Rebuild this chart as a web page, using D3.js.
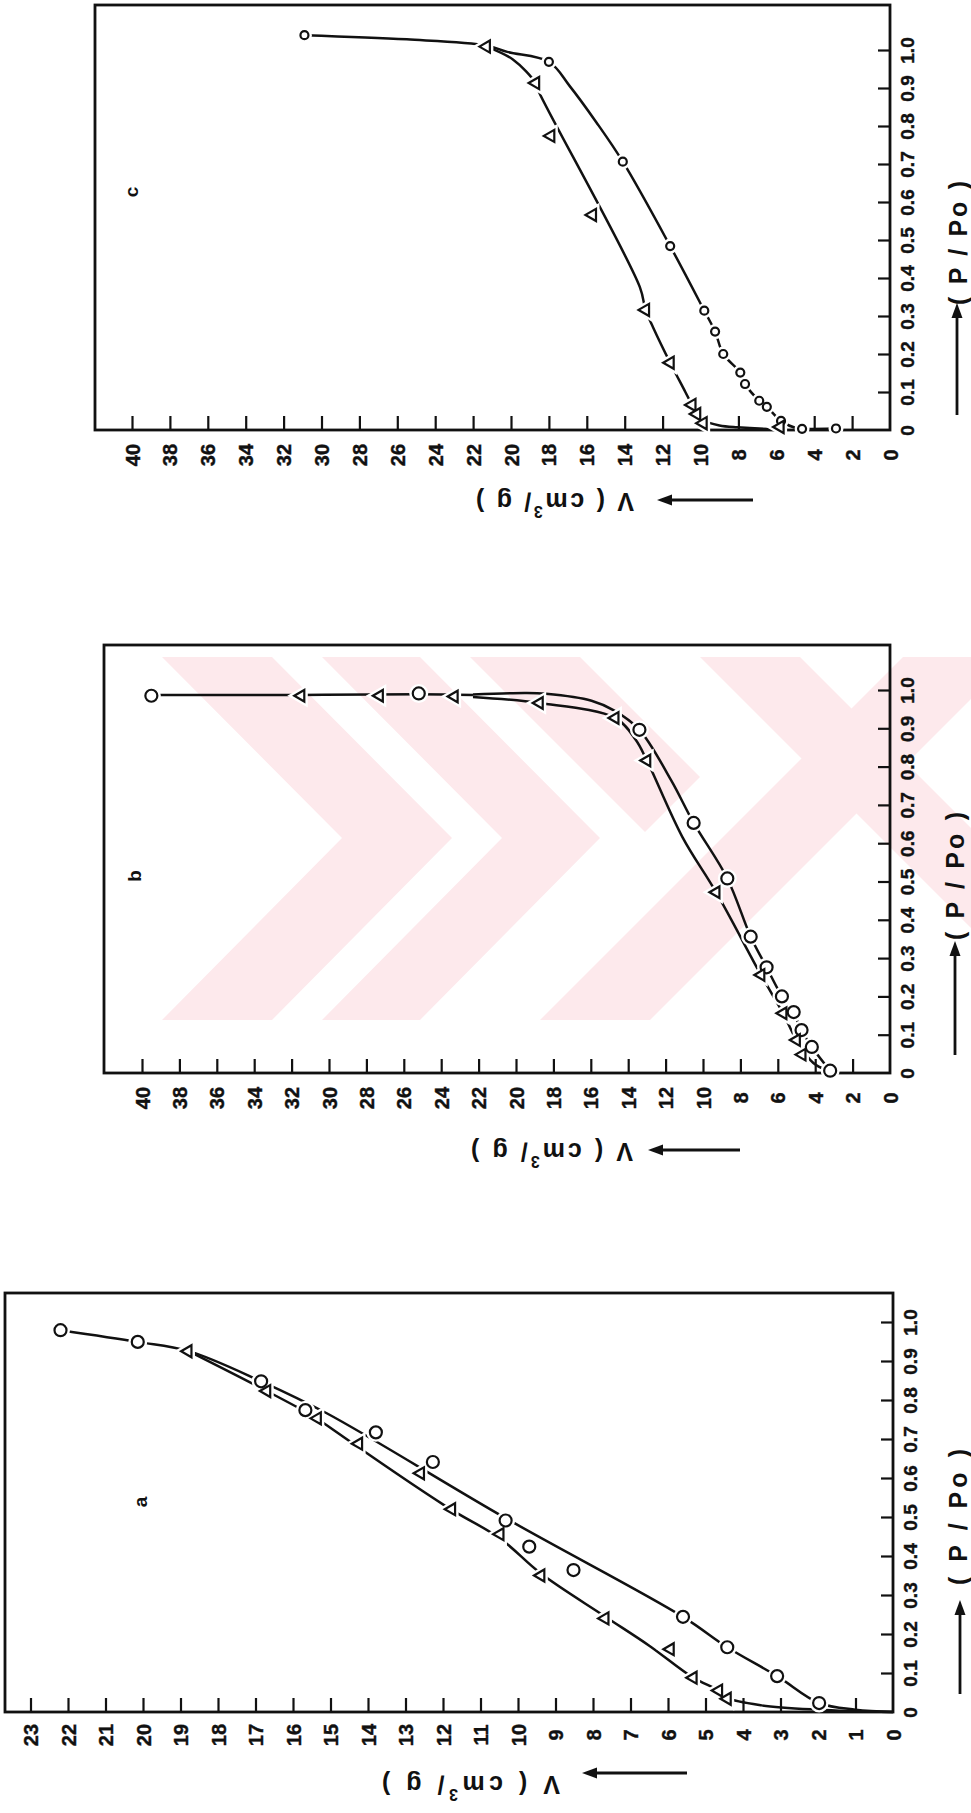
<!DOCTYPE html>
<html><head><meta charset="utf-8">
<script src="https://cdn.jsdelivr.net/npm/d3@7"></script>
<style>
body{margin:0;background:#fff}
svg{display:block}
text{font-family:"Liberation Sans",Arial,sans-serif;fill:#111}
</style>
</head><body>
<svg id="chart" width="971" height="1813"></svg>
<script>
// ---------- tick values / labels ----------
const pTicks = [0,0.1,0.2,0.3,0.4,0.5,0.6,0.7,0.8,0.9,1.0];
const pTickLabels = ["0","0.1","0.2","0.3","0.4","0.5","0.6","0.7","0.8","0.9","1.0"];
const vTicksA = [0,1,2,3,4,5,6,7,8,9,10,11,12,13,14,15,16,17,18,19,20,21,22,23];
const vTickLabelsA = ["0","1","2","3","4","5","6","7","8","9","10","11","12","13","14","15","16","17","18","19","20","21","22","23"];
const vTicksBC = [0,2,4,6,8,10,12,14,16,18,20,22,24,26,28,30,32,34,36,38,40];
const vTickLabelsBC = ["0","2","4","6","8","10","12","14","16","18","20","22","24","26","28","30","32","34","36","38","40"];

// ---------- panel a data  [V (cm3/g), P/Po] ----------
const aCircles = [[22.2,0.979],[20.14,0.949],[16.85,0.848],[15.67,0.774],[13.79,0.717],[12.27,0.641],[10.33,0.491],[9.7,0.424],[8.52,0.364],[5.6,0.244],[4.42,0.166],[3.09,0.092],[1.97,0.023]];
const aTriangles = [[18.8,0.925],[16.7,0.823],[15.35,0.753],[14.25,0.688],[12.6,0.612],[11.77,0.52],[10.48,0.456],[9.39,0.35],[7.68,0.24],[5.94,0.161],[5.33,0.088],[4.65,0.055],[4.42,0.034]];
const aCircleLine = [[22.2,0.979],[20.14,0.949],[18.8,0.926],[16.85,0.848],[15.1,0.766],[10.33,0.497],[5.6,0.244],[4.42,0.166],[3.09,0.092],[1.97,0.023],[1.0,0.006],[0,0]];
const aTriangleLine = [[18.8,0.926],[16.7,0.823],[15.36,0.753],[15.1,0.735],[11.9,0.526],[10.48,0.445],[9.39,0.355],[7.68,0.245],[6.5,0.17],[5.33,0.088],[4.65,0.055],[4.42,0.036],[3.5,0.017],[2,0.006],[0,0]];

// ---------- panel b data ----------
const bCircles = [[39.5,0.985],[25.2,0.991],[13.4,0.896],[10.5,0.653],[8.7,0.508],[7.45,0.356],[6.6,0.276],[5.78,0.2],[5.15,0.159],[4.73,0.112],[4.18,0.068],[3.2,0.006]];
const bTriangles = [[31.5,0.985],[27.3,0.985],[23.3,0.983],[18.75,0.966],[14.7,0.927],[13.0,0.816],[9.3,0.472],[6.9,0.256],[5.72,0.156],[5.0,0.086],[4.7,0.048]];
const bTopLine = [[39.5,0.987],[31.5,0.987],[25.2,0.989],[22.3,0.987]];
const bCircleLine = [[22.3,0.988],[19.5,0.992],[18.4,0.99],[15.96,0.972],[14.74,0.946],[13.4,0.896],[11.7,0.764],[10.5,0.653],[8.7,0.508],[7.45,0.356],[6.6,0.276],[5.78,0.2],[5.15,0.155],[4.73,0.112],[4.18,0.068],[3.2,0.006]];
const bTriangleLine = [[22.3,0.982],[18.75,0.966],[14.7,0.927],[13.6,0.87],[13.0,0.816],[11.1,0.616],[9.3,0.472],[6.9,0.256],[5.72,0.156],[5.0,0.086],[4.1,0.026],[3.4,0.008]];

// ---------- panel c data ----------
const cCircles = [[30.9,1.039],[18.0,0.969],[14.1,0.706],[11.6,0.484],[9.8,0.314],[9.23,0.259],[8.8,0.2],[7.9,0.151],[7.65,0.121],[6.9,0.077],[6.5,0.061],[5.75,0.024],[4.64,0.003],[2.85,0.004]];
const cTriangles = [[21.3,1.009],[18.7,0.913],[17.9,0.774],[15.7,0.566],[12.9,0.316],[11.6,0.177],[10.45,0.066],[10.2,0.042],[9.86,0.018],[5.8,0.008]];
const cCircleLine = [[30.9,1.039],[25.5,1.028],[21.3,1.012],[20.2,0.995],[18.0,0.969],[16.9,0.905],[15.5,0.81],[14.1,0.706],[11.6,0.484],[9.8,0.314],[9.23,0.259],[8.8,0.2],[7.9,0.151],[7.65,0.121],[6.9,0.077],[6.5,0.061],[5.75,0.024],[4.9,0.004],[4.64,0.003],[2.85,0.004]];
const cTriangleLine = [[21.3,1.009],[19.9,0.975],[18.7,0.913],[18.5,0.887],[13.2,0.376],[12.9,0.316],[12.5,0.27],[11.6,0.177],[10.8,0.10],[10.45,0.066],[10.2,0.042],[9.86,0.025],[9.0,0.012],[8.07,0.007],[5.96,0.002],[5.8,0.002]];

// ---------- layout ----------
const panels = [
  {name:"c", vMax:40, vTicks:vTicksBC, vLabels:vTickLabelsBC, x0:890, x1:132, y0:430, y1:50, left:95, top:5,
   circles:cCircles, triangles:cTriangles, lines:[cCircleLine,cTriangleLine], r:4, tri:64,
   letter:[131,192], pLab:[958,243,124], pArrow:[957,415,303], vLab:[555,502,158], vArrow:[753,657,500], vLabOff:25},
  {name:"b", vMax:40, vTicks:vTicksBC, vLabels:vTickLabelsBC, x0:890, x1:142, y0:1073, y1:690, left:104, top:645,
   circles:bCircles, triangles:bTriangles, lines:[bTopLine,bCircleLine,bTriangleLine], r:6, tri:58,
   letter:[134,876], pLab:[955,876,128], pArrow:[955,1055,941], vLab:[552,1152,162], vArrow:[740,648,1150], vLabOff:25},
  {name:"a", vMax:23, vTicks:vTicksA, vLabels:vTickLabelsA, x0:893, x1:30.5, y0:1712, y1:1322, left:5, top:1293,
   circles:aCircles, triangles:aTriangles, lines:[aCircleLine,aTriangleLine], r:6, tri:62,
   letter:[140,1502], pLab:[958,1517,136], pArrow:[960,1694,1600], vLab:[471,1785,178], vArrow:[687,582,1773], vLabOff:23}
];

const svg = d3.select("#chart");
const INK = "#111";

// faint watermark (decorative, from the source scan)
const wm = svg.append("g").attr("fill","#fde9ec");
svg.append("clipPath").attr("id","wmclip").append("rect").attr("x",162).attr("y",657).attr("width",809).attr("height",363);
wm.attr("clip-path","url(#wmclip)");
const wmShapes = [
  [[162,657],[272,657],[452,838],[272,1020],[162,1020],[342,838]],
  [[322,657],[420,657],[600,838],[420,1020],[322,1020],[502,838]],
  [[540,1020],[650,1020],[1013,657],[903,657]],
  [[700,657],[800,657],[971,828],[971,928]],
  [[470,657],[580,657],[700,777],[645,832]]
];
wmShapes.forEach(s => wm.append("polygon").attr("points", s.map(p=>p.join(",")).join(" ")));

function arrow(g, x1, y1, x2, y2){
  const ang = Math.atan2(y2-y1, x2-x1);
  const hl = 15, hw = 5.5;
  const bx = x2 - hl*Math.cos(ang), by = y2 - hl*Math.sin(ang);
  g.append("line").attr("x1",x1).attr("y1",y1).attr("x2",bx).attr("y2",by)
    .attr("stroke",INK).attr("stroke-width",2.8);
  const px = -Math.sin(ang)*hw, py = Math.cos(ang)*hw;
  g.append("polygon").attr("points",`${x2},${y2} ${bx+px},${by+py} ${bx-px},${by-py}`).attr("fill",INK);
}

panels.forEach(p => {
  const x = d3.scaleLinear().domain([0, p.vMax]).range([p.x0, p.x1]);
  const y = d3.scaleLinear().domain([0, 1]).range([p.y0, p.y1]);
  const g = svg.append("g");

  // frame
  g.append("rect").attr("x",p.left).attr("y",p.top).attr("width",p.x0-p.left).attr("height",p.y0-p.top)
    .attr("fill","none").attr("stroke",INK).attr("stroke-width",2.8);

  // P/Po axis (right side)
  const pAxis = d3.axisRight(y).tickValues(pTicks).tickFormat((d,i)=>pTickLabels[i])
    .tickSizeInner(-12).tickSizeOuter(0).tickPadding(0);
  const pg = g.append("g").attr("transform",`translate(${p.x0},0)`).call(pAxis)
    .attr("font-family","Liberation Sans, Arial, sans-serif").attr("font-size",19).attr("font-weight","bold");
  pg.select(".domain").remove();
  pg.selectAll(".tick line").attr("stroke",INK).attr("stroke-width",2.2).filter(d=>d===0).remove();
  pg.selectAll(".tick text").attr("x",null).attr("dy",null).attr("fill",INK)
    .attr("stroke",INK).attr("stroke-width",0.4)
    .attr("transform","translate(10,0) rotate(-90)").attr("text-anchor","middle").attr("dominant-baseline","hanging");

  // V axis (bottom)
  const vAxis = d3.axisBottom(x).tickValues(p.vTicks).tickFormat((d,i)=>p.vLabels[i])
    .tickSizeInner(-14).tickSizeOuter(0).tickPadding(0);
  const vg = g.append("g").attr("transform",`translate(0,${p.y0})`).call(vAxis)
    .attr("font-family","Liberation Sans, Arial, sans-serif").attr("font-size",20).attr("font-weight","bold");
  vg.select(".domain").remove();
  vg.selectAll(".tick line").attr("stroke",INK).attr("stroke-width",2.2).filter(d=>d===0).remove();
  vg.selectAll(".tick text").attr("y",null).attr("dy",null).attr("fill",INK)
    .attr("stroke",INK).attr("stroke-width",0.4)
    .attr("transform",`translate(0,${p.vLabOff}) rotate(-90)`).attr("text-anchor","middle").attr("dominant-baseline","central");

  // fitted curves
  const line = d3.line().x(d=>x(d[0])).y(d=>y(d[1])).curve(d3.curveCatmullRom.alpha(0.5));
  p.lines.forEach(L => g.append("path").attr("d", line(L)).attr("fill","none")
    .attr("stroke",INK).attr("stroke-width",2.5));

  // markers: white halo first (gaps in the lines), then open symbols
  const triPath = d3.symbol().type(d3.symbolTriangle).size(p.tri)();
  const drawMarkers = (halo) => {
    const sw = halo ? 7 : 2.2;
    const col = halo ? "#fff" : INK;
    g.selectAll(null).data(p.circles).join("circle")
      .attr("cx",d=>x(d[0])).attr("cy",d=>y(d[1])).attr("r",p.r)
      .attr("fill","#fff").attr("stroke",col).attr("stroke-width",sw);
    g.selectAll(null).data(p.triangles).join("path")
      .attr("d",triPath)
      .attr("transform",d=>`translate(${x(d[0])},${y(d[1])}) rotate(-90)`)
      .attr("fill","#fff").attr("stroke",col).attr("stroke-width",sw).attr("stroke-linejoin","miter");
  };
  drawMarkers(true);
  drawMarkers(false);

  // panel letter
  g.append("text").attr("transform",`translate(${p.letter[0]},${p.letter[1]}) rotate(-90)`)
    .attr("text-anchor","middle").attr("dominant-baseline","central")
    .attr("font-size",19).attr("font-weight","bold").text(p.name);

  // (P/Po) label + arrow
  g.append("text").attr("transform",`translate(${p.pLab[0]},${p.pLab[1]}) rotate(-90)`)
    .attr("text-anchor","middle").attr("dominant-baseline","central")
    .attr("font-size",25).attr("font-weight","bold")
    .attr("textLength",p.pLab[2]).attr("lengthAdjust","spacing")
    .text("( P / Po )");
  arrow(g, p.pArrow[0], p.pArrow[1], p.pArrow[0], p.pArrow[2]);

  // V (cm3/g) label, upside down + arrow
  const vt = g.append("text").attr("transform",`translate(${p.vLab[0]},${p.vLab[1]}) rotate(180)`)
    .attr("text-anchor","middle").attr("dominant-baseline","central")
    .attr("font-size",25).attr("font-weight","bold")
    .attr("textLength",p.vLab[2]).attr("lengthAdjust","spacing");
  vt.append("tspan").text("V ( cm");
  vt.append("tspan").attr("dy",-10).attr("font-size",16).text("3");
  vt.append("tspan").attr("dy",10).text("/ g )");
  arrow(g, p.vArrow[0], p.vArrow[2], p.vArrow[1], p.vArrow[2]);
});
</script>
</body></html>
